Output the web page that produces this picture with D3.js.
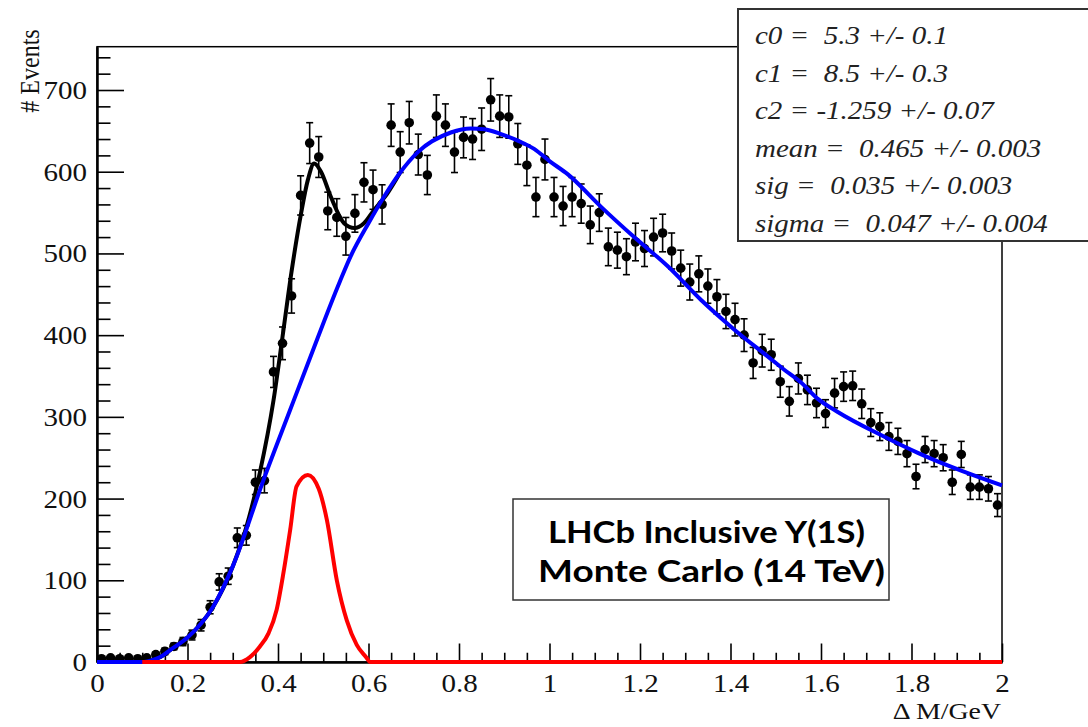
<!DOCTYPE html>
<html><head><meta charset="utf-8">
<script src="https://cdn.jsdelivr.net/npm/d3@7"></script>
<style>
html,body{margin:0;padding:0;background:#fff;} svg{display:block;}
.serif{font-family:"Liberation Serif","DejaVu Serif","Noto Serif",serif;}
</style>
</head><body>
<svg id="chart" width="1088" height="727"></svg>
<script>
// ---- data ----
const binStart = 0, binWidth = 0.02;
const counts = [4,5,4,5,4,5,9,13,19,25,
  33,45,67,98,105,152,155,220,222,355,
  390,448,571,635,618,552,544,521,549,587,
  578,560,657,624,660,621,596,668,657,624,
  642,640,652,688,668,667,634,608,569,615,
  569,558,569,561,535,550,508,504,496,514,
  506,520,525,503,482,465,475,460,447,429,
  419,400,366,381,376,343,319,347,333,317,
  304,329,337,338,316,293,288,276,270,255,
  227,260,255,250,220,254,214,214,212,192];
const errors = [2,2,2,2,2,2,3,4,4,5,
  6,7,8,10,10,12,12,15,15,19,
  20,21,24,25,25,23,23,23,23,24,
  24,24,26,25,26,25,24,26,26,25,
  25,25,26,26,26,26,25,25,24,25,
  24,24,24,24,23,23,23,22,22,23,
  22,23,23,22,22,22,22,21,21,21,
  20,20,19,20,19,19,18,19,18,18,
  17,18,18,18,18,17,17,17,16,16,
  15,16,16,16,15,16,15,15,15,14];
// background (blue) curve samples
const bgX = [0,0.1,0.12,0.14,0.16,0.2,0.23,0.257,0.3,0.3675,0.4265,0.4707,0.537,0.561,0.6,0.635,0.67,0.709,0.782,0.826,0.856,0.893,0.93,0.966,1.0,1.04,1.114,1.187,1.262,1.335,1.408,1.482,1.518,1.556,1.593,1.637,1.739,1.814,1.887,2.0];
const bgY = [0,0,2,6,14,30,47,68,117,222,308,372,466,497,537,570,599,624,648,653,652,646,638,628,613,597,557,520,484,443,407,374,358,342,322,306,276,256,239,216];
// signal (red) curve samples
const sigX = [0.1,0.316,0.338,0.36,0.379,0.397,0.412,0.427,0.441,0.466,0.49,0.508,0.53,0.552,0.574,0.596,0.603,2.0];
const sigY = [0,0,6,19,35,64,109,162,215,229,212,174,100,51,21,5,0,0];
// total (black) curve samples
const totX = [0,0.1,0.12,0.14,0.16,0.2,0.23,0.257,0.3,0.33,0.36,0.39,0.41,0.43,0.451,0.466,0.48,0.495,0.517,0.546,0.569,0.59,0.612,0.64,0.67];
const totY = [0,0,2,6,14,30,47,68,117,165,232,320,398,478,549,590,610,600,569,537,531,537,553,572,599];
// axes
const xMajorTicks = [0,0.2,0.4,0.6,0.8,1,1.2,1.4,1.6,1.8,2];
const xTickLabels = ["0","0.2","0.4","0.6","0.8","1","1.2","1.4","1.6","1.8","2"];
const yMajorTicks = [0,100,200,300,400,500,600,700];
const yTickLabels = ["0","100","200","300","400","500","600","700"];
const xTitle = "\u0394 M/GeV";
const yTitle = "# Events";
const statsLines = ["c0 =  5.3 +/- 0.1","c1 =  8.5 +/- 0.3","c2 = -1.259 +/- 0.07","mean =  0.465 +/- 0.003","sig =  0.035 +/- 0.003","sigma =  0.047 +/- 0.004"];
const noteLines = ["LHCb Inclusive Y(1S)","Monte Carlo (14 TeV)"];

// ---- drawing ----
const SX = 1.16;
const svg = d3.select("#chart");
svg.append("rect").attr("width",1088).attr("height",727).attr("fill","#fff");

const x = d3.scaleLinear().domain([0,2]).range([97,1002]);
const y = d3.scaleLinear().domain([0,753]).range([662,46.7]);

// frame
svg.append("rect").attr("x",x(0)).attr("y",y(753)).attr("width",x(2)-x(0)).attr("height",y(0)-y(753))
  .attr("fill","none").attr("stroke","#000").attr("stroke-width",1.5);

const isMajor = (v, step) => Math.abs(v/step - Math.round(v/step)) < 1e-6;
const xMinor = d3.range(0, 2.0001, 0.05).filter(v => !isMajor(v,0.2));
const yMinor = d3.range(0, 753, 20).filter(v => !isMajor(v,100));

const gxm = svg.append("g").attr("transform",`translate(0,${y(0)})`)
  .call(d3.axisBottom(x).tickValues(xMinor).tickSizeInner(-9.25).tickSizeOuter(0).tickFormat(""));
const gx = svg.append("g").attr("transform",`translate(0,${y(0)})`)
  .call(d3.axisBottom(x).tickValues(xMajorTicks).tickSizeInner(-18.5).tickSizeOuter(0)
    .tickFormat(d => xTickLabels[xMajorTicks.indexOf(d)]));
const gym = svg.append("g").attr("transform",`translate(${x(0)},0)`)
  .call(d3.axisLeft(y).tickValues(yMinor).tickSizeInner(-13.5).tickSizeOuter(0).tickFormat(""));
const gy = svg.append("g").attr("transform",`translate(${x(0)},0)`)
  .call(d3.axisLeft(y).tickValues(yMajorTicks).tickSizeInner(-27).tickSizeOuter(0)
    .tickFormat(d => yTickLabels[yMajorTicks.indexOf(d)]));

[gxm,gx,gym,gy].forEach(g => {
  g.attr("font-family",null).attr("font-size",null).attr("class","serif").style("font-size","25px");
  g.select(".domain").attr("stroke","#000").attr("stroke-width",2);
  g.selectAll(".tick line").attr("stroke","#000").attr("stroke-width",1.6);
});
gx.selectAll(".tick text").attr("y",30).attr("dy",null).attr("fill","#111")
  .attr("transform",`scale(${SX},1)`);
gy.selectAll(".tick text").attr("x",-8.6).attr("dy","0.34em").attr("fill","#111")
  .attr("transform",`scale(${SX},1)`);

// axis titles
svg.append("text").attr("class","serif").attr("transform",`translate(1001,719) scale(${SX},1)`)
  .attr("text-anchor","end").style("font-size","24px").attr("fill","#111").text(xTitle);
svg.append("text").attr("class","serif").attr("transform",`translate(39,71) scale(${SX},1) rotate(-90)`)
  .attr("text-anchor","middle").style("font-size","24px").attr("fill","#111").text(yTitle);

// data points with error bars
const pts = counts.map((c,i) => ({x: binStart + (i+0.5)*binWidth, v: c, e: errors[i]}));
const gp = svg.append("g");
const eb = gp.selectAll("g.eb").data(pts).join("g").attr("class","eb");
eb.append("line").attr("x1",d=>x(d.x)).attr("x2",d=>x(d.x)).attr("y1",d=>y(d.v-d.e)).attr("y2",d=>y(d.v+d.e))
  .attr("stroke","#000").attr("stroke-width",1.6);
eb.append("line").attr("x1",d=>x(d.x)-3.5).attr("x2",d=>x(d.x)+3.5).attr("y1",d=>y(d.v+d.e)).attr("y2",d=>y(d.v+d.e))
  .attr("stroke","#000").attr("stroke-width",1.6);
eb.append("line").attr("x1",d=>x(d.x)-3.5).attr("x2",d=>x(d.x)+3.5).attr("y1",d=>y(d.v-d.e)).attr("y2",d=>y(d.v-d.e))
  .attr("stroke","#000").attr("stroke-width",1.6);
gp.selectAll("circle").data(pts).join("circle").attr("cx",d=>x(d.x)).attr("cy",d=>y(d.v)).attr("r",4.8).attr("fill","#000");

// curves
const line = d3.line().x(d=>x(d[0])).y(d=>y(d[1])).curve(d3.curveMonotoneX);
const zip = (a,b) => a.map((v,i)=>[v,b[i]]);
svg.append("path").attr("d",line(zip(totX,totY))).attr("fill","none").attr("stroke","#000").attr("stroke-width",4);
svg.append("path").attr("d",line(zip(bgX,bgY))).attr("fill","none").attr("stroke","#0000ff").attr("stroke-width",4);
svg.append("path").attr("d",line(zip(sigX,sigY))).attr("fill","none").attr("stroke","#ff0000").attr("stroke-width",4);

// stats box
svg.append("rect").attr("x",738).attr("y",9).attr("width",420).attr("height",232)
  .attr("fill","#fff").attr("stroke","#333").attr("stroke-width",2);
svg.append("g").selectAll("text").data(statsLines).join("text").attr("class","serif")
  .attr("transform",(d,i)=>`translate(755,${44+i*37.6}) scale(${SX},1)`)
  .style("font-style","italic").style("font-size","25px").attr("fill","#222")
  .attr("xml:space","preserve").style("white-space","pre").text(d=>d);

// note box
svg.append("rect").attr("x",513).attr("y",499).attr("width",376).attr("height",101)
  .attr("fill","#fff").attr("stroke","#333").attr("stroke-width",1.5);
const noteX = [548,538], noteW = [317,347], noteY = [543,582];
svg.append("g").selectAll("text").data(noteLines).join("text")
  .attr("x",(d,i)=>noteX[i]).attr("y",(d,i)=>noteY[i])
  .attr("textLength",(d,i)=>noteW[i]).attr("lengthAdjust","spacingAndGlyphs")
  .style("font-family","Lato,'Open Sans',sans-serif").style("font-weight","700").style("font-size","30px").attr("fill","#000")
  .text(d=>d);
</script>
</body></html>
